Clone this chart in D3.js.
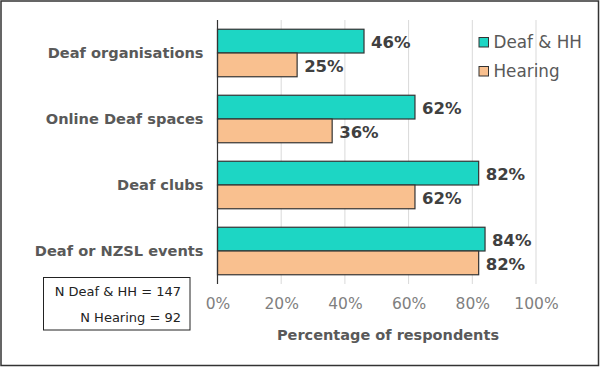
<!DOCTYPE html>
<html><head><meta charset="utf-8">
<script src="https://cdn.jsdelivr.net/npm/d3@7/dist/d3.min.js"></script>
<style>body{margin:0;background:#fff}svg{display:block}</style>
</head><body>
<script>
const categories = ["Deaf organisations", "Online Deaf spaces", "Deaf clubs", "Deaf or NZSL events"];
const seriesNames = ["Deaf & HH", "Hearing"];
const deafHH = [46, 62, 82, 84];
const hearing = [25, 36, 62, 82];
const xTicks = [0, 20, 40, 60, 80, 100];
const colors = ["#1dd6c4", "#f9c08f"];
const nLabels = ["N Deaf & HH = 147", "N Hearing = 92"];
const axisTitle = "Percentage of respondents";

const W = 600, H = 367;
const font = "'DejaVu Sans', Verdana, sans-serif";
const svg = d3.select("body").append("svg").attr("width", W).attr("height", H);
svg.append("rect").attr("x", 1).attr("y", 1).attr("width", W - 2.5).attr("height", H - 2.5)
  .attr("fill", "#fff").attr("stroke", "#333").attr("stroke-width", 1.5);

const x = d3.scaleLinear().domain([0, 100]).range([217.5, 536]);
const y = d3.scaleBand().domain(categories).range([20, 284]).paddingInner(0.28).paddingOuter(0.14);
const ys = d3.scaleBand().domain(seriesNames).range([0, y.bandwidth()]);

// gridlines
svg.append("g").selectAll("line").data(xTicks.slice(1)).join("line")
  .attr("x1", d => x(d)).attr("x2", d => x(d)).attr("y1", 20).attr("y2", 284)
  .attr("stroke", "#d9d9d9").attr("stroke-width", 1);

// tick labels via axis
const ax = svg.append("g").attr("transform", "translate(0,284)")
  .call(d3.axisBottom(x).tickValues(xTicks).tickFormat(d => d + "%").tickSize(0).tickPadding(14));
ax.select(".domain").remove();
ax.selectAll("text").attr("font-family", font).attr("font-size", 15.5).attr("fill", "#7f7f7f");

// category labels
const ay = svg.append("g").attr("transform", "translate(217.5,0)")
  .call(d3.axisLeft(y).tickSize(0).tickPadding(14));
ay.select(".domain").remove();
ay.selectAll("text").attr("font-family", font).attr("font-size", 14.6).attr("font-weight", "bold").attr("fill", "#595959");

const data = categories.map((c, i) => ({c, vals: [deafHH[i], hearing[i]]}));
const groups = svg.append("g").selectAll("g").data(data).join("g")
  .attr("transform", d => `translate(0,${y(d.c)})`);
groups.selectAll("rect").data(d => d.vals.map((v, j) => ({v, s: seriesNames[j], j}))).join("rect")
  .attr("x", x(0)).attr("y", d => ys(d.s)).attr("width", d => x(d.v) - x(0)).attr("height", ys.bandwidth())
  .attr("fill", d => colors[d.j]).attr("stroke", "#333").attr("stroke-width", 1.2);
groups.selectAll("text").data(d => d.vals.map((v, j) => ({v, s: seriesNames[j], j}))).join("text")
  .attr("x", d => x(d.v) + 7).attr("y", d => ys(d.s) + ys.bandwidth() / 2 + 1)
  .attr("dy", "0.36em").attr("font-family", font).attr("font-size", 16.5).attr("font-weight", "bold")
  .attr("fill", "#404040").text(d => d.v + "%");

// y axis line
svg.append("line").attr("x1", x(0)).attr("x2", x(0)).attr("y1", 20).attr("y2", 284)
  .attr("stroke", "#333").attr("stroke-width", 1.2);

// axis title
svg.append("text").attr("x", 388).attr("y", 340).attr("text-anchor", "middle")
  .attr("font-family", font).attr("font-size", 14.5).attr("font-weight", "bold").attr("fill", "#595959")
  .text(axisTitle);

// legend
const lg = svg.append("g").selectAll("g").data(seriesNames).join("g")
  .attr("transform", (d, i) => `translate(479,${37.5 + i * 29})`);
lg.append("rect").attr("width", 9.5).attr("height", 9.5).attr("fill", (d, i) => colors[i])
  .attr("stroke", "#333").attr("stroke-width", 1);
lg.append("text").attr("x", 14.5).attr("y", 4.75).attr("dy", "0.36em")
  .attr("font-family", font).attr("font-size", 16.8).attr("fill", "#595959").text(d => d);

// N box
svg.append("rect").attr("x", 43.5).attr("y", 277.5).attr("width", 146.5).attr("height", 52.5)
  .attr("fill", "#fff").attr("stroke", "#222").attr("stroke-width", 1);
svg.append("g").selectAll("text").data(nLabels).join("text")
  .attr("x", 181).attr("y", (d, i) => 296 + i * 26).attr("text-anchor", "end")
  .attr("font-family", font).attr("font-size", 13).attr("fill", "#222").text(d => d);
</script>
</body></html>
